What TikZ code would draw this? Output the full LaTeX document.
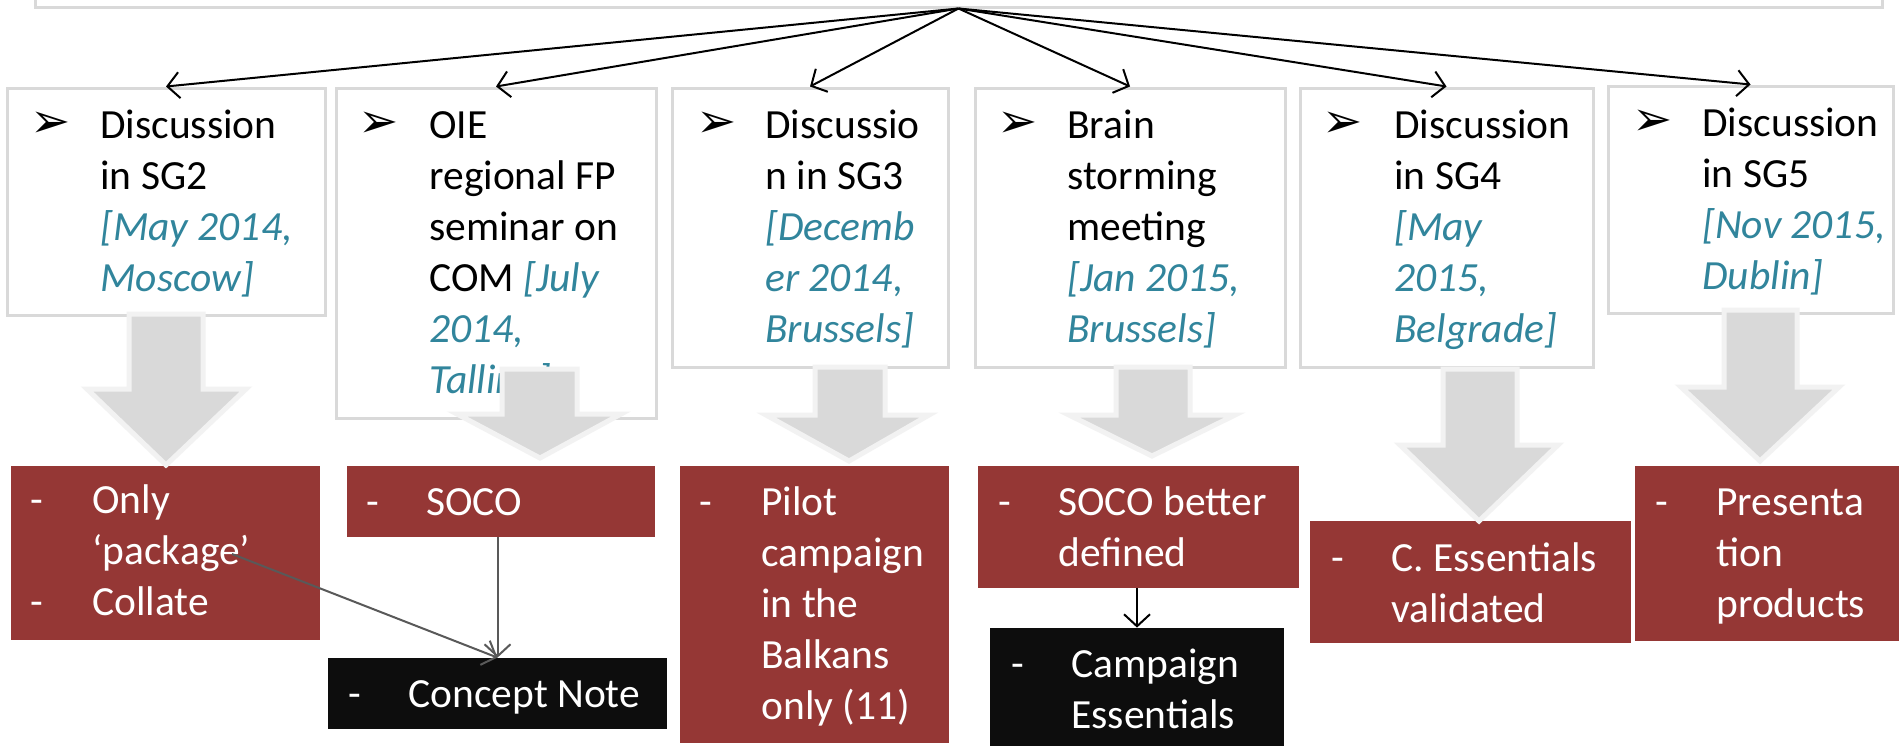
\documentclass[tikz,border=0pt]{standalone}
\usepackage{fontspec}
\setmainfont{Carlito}
\newfontfamily\dingfont{DejaVu Sans}
\usetikzlibrary{arrows.meta,fit}

\definecolor{boxline}{HTML}{D9D9D9}
\definecolor{blockfill}{HTML}{D9D9D9}
\definecolor{blockedge}{HTML}{F2F2F2}
\definecolor{datecol}{HTML}{31859C}
\definecolor{outred}{HTML}{953735}
\definecolor{outblack}{HTML}{0D0D0D}
\definecolor{linkgray}{HTML}{595959}

\newcommand\dt[1]{{\itshape\color{datecol}#1}}
% lines stacked with the baseline of the first line as the node's base
\newcommand\stack[1]{\begin{tabular}[t]{@{}l@{}}#1\end{tabular}}

\tikzset{
  stepbox/.style={draw=boxline, line width=1.5pt, fill=white, inner sep=0pt},
  redbox/.style={fill=outred, inner sep=0pt},
  blackbox/.style={fill=outblack, inner sep=0pt},
  txt/.style={anchor=base west, inner sep=0pt,
    font=\fontsize{20.75pt}{25.5pt}\selectfont},
  wtxt/.style={txt, text=white},
  bul/.style={anchor=base west, inner sep=0pt, font=\dingfont\fontsize{24pt}{28pt}\selectfont},
  blockarrow/.style={fill=blockfill, draw=blockedge, line width=2.5pt, line join=miter},
  fan/.style={draw=black, line width=1pt, -{Straight Barb[length=6pt,width=13pt]}},
  link/.style={draw=linkgray, line width=1pt, -{Straight Barb[length=6pt,width=13pt]}},
  blink/.style={draw=black, line width=1pt, -{Straight Barb[length=6pt,width=13pt]}},
}

\begin{document}
\begin{tikzpicture}[x=0.5pt,y=-0.5pt]
\useasboundingbox (0,0) rectangle (1899,745);
\clip (0,0) rectangle (1899,745);
\fill[white] (0,0) rectangle (1899,745);

% header box (only its lower edge is in view)
\node[stepbox, fit={(35,-40) (1882,7)}] (top) {};

% event boxes
\node[stepbox, fit={(7,88) (325,315)}] (b1) {};
\node[stepbox, fit={(336,88) (656,418)}] (b2) {};
\node[stepbox, fit={(672,88) (948,367)}] (b3) {};
\node[stepbox, fit={(975,88) (1285,367)}] (b4) {};
\node[stepbox, fit={(1300,88) (1593,367)}] (b5) {};
\node[stepbox, fit={(1608,86) (1893,313)}] (b6) {};

% bullets
\node[bul] (m1) at (30,137) {➢};
\node[bul] (m2) at (358,137) {➢};
\node[bul] (m3) at (696,137) {➢};
\node[bul] (m4) at (997,137) {➢};
\node[bul] (m5) at (1322,137) {➢};
\node[bul] (m6) at (1632,135) {➢};

% event texts
\node[txt] (t1) at (100,138) {\stack{Discussion\\in SG2\\\dt{[May 2014,}\\\dt{Moscow]}}};
\node[txt] (t2) at (429,138) {\stack{OIE\\regional FP\\seminar on\\COM \dt{[July}\\\dt{2014,}\\\dt{Tallinn]}}};
\node[txt] (t3) at (765,138) {\stack{Discussio\\n in SG3\\\dt{[Decemb}\\\dt{er 2014,}\\\dt{Brussels]}}};
\node[txt] (t4) at (1067,138) {\stack{Brain\\storming\\meeting\\\dt{[Jan 2015,}\\\dt{Brussels]}}};
\node[txt] (t5) at (1394,138) {\stack{Discussion\\in SG4\\\dt{[May}\\\dt{2015,}\\\dt{Belgrade]}}};
\node[txt] (t6) at (1702,136) {\stack{Discussion\\in SG5\\\dt{[Nov 2015,}\\\dt{Dublin]}}};

% fan of connectors from the header
\coordinate (apex) at (top.south);
\foreach \b in {b1,b2,b3,b4,b5,b6} \draw[fan] (apex) -- (\b.north);

% outcome boxes
\node[redbox, fit={(11,466) (320,640)}] (r1) {};
\node[redbox, fit={(347,466) (655,537)}] (r2) {};
\node[redbox, fit={(680,466) (949,743)}] (r3) {};
\node[redbox, fit={(978,466) (1299,588)}] (r4) {};
\node[redbox, fit={(1310,521) (1631,643)}] (r5) {};
\node[redbox, fit={(1635,466) (1899,641)}] (r6) {};
\node[blackbox, fit={(328,658) (667,729)}] (k1) {};
\node[blackbox, fit={(990,628) (1284,760)}] (k2) {};

% block arrows from events to outcomes
\draw[blockarrow] (129,314) -- (203,314) -- (203,389) -- (246,389) -- (166,465) -- (87,389) -- (129,389) -- cycle;
\draw[blockarrow] (502,369) -- (577,369) -- (577,414) -- (621,414) -- (540,458) -- (457,414) -- (502,414) -- cycle;
\draw[blockarrow] (815,367) -- (885,367) -- (885,415) -- (929,415) -- (849,461) -- (766,415) -- (815,415) -- cycle;
\draw[blockarrow] (1116,367) -- (1190,367) -- (1190,415) -- (1235,415) -- (1152,456) -- (1069,415) -- (1116,415) -- cycle;
\draw[blockarrow] (1443,369) -- (1517,369) -- (1517,445) -- (1558,445) -- (1479,521) -- (1400,445) -- (1443,445) -- cycle;
\draw[blockarrow] (1724,310) -- (1797,310) -- (1797,387) -- (1839,387) -- (1760,461) -- (1681,387) -- (1724,387) -- cycle;

% outcome texts
\node[wtxt] (r1d) at (30,513) {\stack{-\\ \\-}};
\node[wtxt] (r1t) at (92,513) {\stack{Only\\‘package’\\Collate}};
\node[wtxt] (r2d) at (366,515) {-};
\node[wtxt] (r2t) at (426,515) {SOCO};
\node[wtxt] (r3d) at (699,515) {-};
\node[wtxt] (r3t) at (761,515) {\stack{Pilot\\campaign\\in the\\Balkans\\only (11)}};
\node[wtxt] (r4d) at (998,515) {-};
\node[wtxt] (r4t) at (1058,515) {\stack{SOCO better\\defined}};
\node[wtxt] (r5d) at (1331,571) {-};
\node[wtxt] (r5t) at (1391,571) {\stack{C. Essentials\\validated}};
\node[wtxt] (r6d) at (1655,515) {-};
\node[wtxt] (r6t) at (1716,515) {\stack{Presenta\\tion\\products}};
\node[wtxt] (k1d) at (348,707) {-};
\node[wtxt] (k1t) at (408,707) {Concept Note};
\node[wtxt] (k2d) at (1011,677) {-};
\node[wtxt] (k2t) at (1071,677) {\stack{Campaign\\Essentials}};

% links between outcomes
\coordinate (pkg) at (232,554);
\draw[link] (pkg) -- (k1.north);
\draw[link] (k1.north |- r2.south) -- (k1.north);
\draw[blink] (k2.north |- r4.south) -- (k2.north);
\end{tikzpicture}
\end{document}
